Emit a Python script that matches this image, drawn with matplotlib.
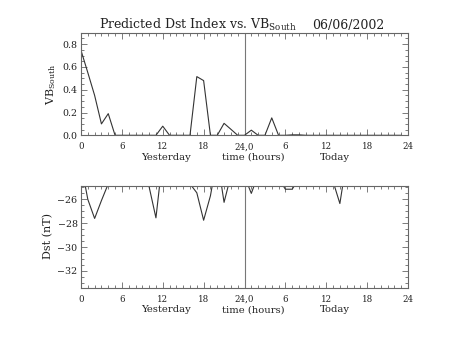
import matplotlib
matplotlib.use("Agg")
import matplotlib.pyplot as plt
from matplotlib.ticker import MultipleLocator, FixedLocator, FixedFormatter, FormatStrFormatter

plt.rcParams['font.family'] = ['DejaVu Serif']
plt.rcParams['mathtext.fontset'] = 'dejavuserif'

hours = list(range(48))
vb_south = [0.745, 0.55, 0.35, 0.10, 0.19, 0, 0, 0, 0, 0, 0, 0,
            0.08, 0, 0, 0, 0, 0.515, 0.48, 0, 0, 0.105, 0.053, 0,
            0, 0.045, 0, 0, 0.153, 0, 0, 0.004, 0.004, 0, 0, 0,
            0, 0, 0, 0, 0, 0, 0, 0, 0, 0, 0, 0]
dst = [-23.0, -26.0, -27.6, -26.1, -24.7, -24.5, -24.5, -24.5, -24.5, -24.5, -24.95, -27.55,
       -22.5, -24.5, -24.5, -24.5, -24.7, -25.45, -27.75, -25.7, -22.5, -26.25, -24.0, -24.5,
       -24.06, -25.5, -23.95, -24.5, -24.5, -24.25, -25.15, -25.15, -24.25, -24.5, -24.5, -24.5,
       -24.5, -24.5, -26.35, -22.7, -24.5, -24.5, -24.5, -24.5, -24.5, -24.5, -24.5, -24.5]

xtick_pos = [0, 6, 12, 18, 24, 30, 36, 42, 48]
xtick_labels = ['0', '6', '12', '18', '24,0', '6', '12', '18', '24']

W, H = 453, 340
fig = plt.figure(figsize=(W / 100, H / 100), dpi=100)
fig.patch.set_facecolor('white')

axc = '#666666'
linec = '#333333'
txtc = '#222222'
X0, X1 = 81, 408


def make_axes(top_px, bot_px):
    ax = fig.add_axes([X0 / W, 1 - bot_px / H, (X1 - X0) / W, (bot_px - top_px) / H])
    for s in ax.spines.values():
        s.set_color(axc)
        s.set_linewidth(0.8)
    ax.set_xlim(0, 48)
    ax.xaxis.set_major_locator(FixedLocator(xtick_pos))
    ax.xaxis.set_major_formatter(FixedFormatter(xtick_labels))
    ax.xaxis.set_minor_locator(MultipleLocator(1))
    ax.tick_params(which='both', direction='in', top=True, right=True,
                   color=axc, width=0.6, labelcolor=txtc)
    ax.tick_params(which='major', length=4)
    ax.tick_params(which='minor', length=2)
    ax.tick_params(axis='x', pad=5, labelsize=6.2)
    ax.tick_params(axis='y', pad=2.5, labelsize=6.8)
    ax.axvline(24, color='#777777', lw=0.8)
    return ax


def bottom_labels(y_px):
    yf = 1 - y_px / H
    for xh, txt in [(12.4, 'Yesterday'), (25.3, 'time (hours)'), (37.2, 'Today')]:
        xf = (X0 + (X1 - X0) * xh / 48) / W
        fig.text(xf, yf, txt, ha='center', va='center', fontsize=7.2, color=txtc)


ax1 = make_axes(33.3, 135.3)
ax1.plot(hours, vb_south, color=linec, lw=0.8)
ax1.set_ylim(0, 0.895)
ax1.yaxis.set_major_locator(MultipleLocator(0.2))
ax1.yaxis.set_minor_locator(MultipleLocator(0.05))
ax1.yaxis.set_major_formatter(FormatStrFormatter('%.1f'))
fig.text(51 / W, 1 - 84 / H, r'VB$_{\mathrm{South}}$', rotation=90, ha='center', va='center',
         fontsize=8, color=txtc)
bottom_labels(157)

ax2 = make_axes(186, 288)
ax2.plot(hours, dst, color=linec, lw=0.8)
ax2.set_ylim(-33.43, -24.88)
ax2.yaxis.set_major_locator(FixedLocator([-32, -30, -28, -26]))
ax2.yaxis.set_minor_locator(MultipleLocator(0.5))
fig.text(48 / W, 1 - 236 / H, 'Dst (nT)', rotation=90, ha='center', va='center',
         fontsize=8, color=txtc)
bottom_labels(310)

fig.text(99 / W, 1 - 29.3 / H, r'Predicted Dst Index vs. VB$_{\mathrm{South}}$',
         ha='left', va='baseline', fontsize=9, color=txtc)
fig.text(384 / W, 1 - 29.3 / H, '06/06/2002', ha='right', va='baseline', fontsize=9, color=txtc)

fig.savefig('out.png', dpi=100)
